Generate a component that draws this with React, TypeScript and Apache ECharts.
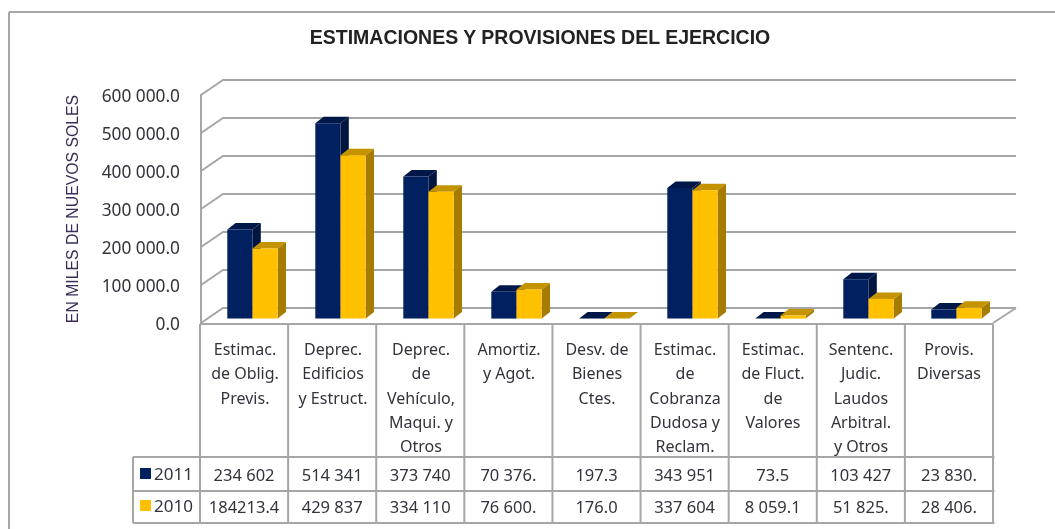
import React, { useEffect, useRef } from "react";
import * as echarts from "echarts";

const categories = [
  "Estimac.\nde Oblig.\nPrevis.",
  "Deprec.\nEdificios\ny Estruct.",
  "Deprec.\nde\nVehículo,\nMaqui. y\nOtros",
  "Amortiz.\ny Agot.",
  "Desv. de\nBienes\nCtes.",
  "Estimac.\nde\nCobranza\nDudosa y\nReclam.",
  "Estimac.\nde Fluct.\nde\nValores",
  "Sentenc.\nJudic.\nLaudos\nArbitral.\ny Otros",
  "Provis.\nDiversas",
];
const values2011 = [234602, 514341, 373740, 70376, 197.3, 343951, 73.5, 103427, 23830];
const values2010 = [184213.4, 429837, 334110, 76600, 176, 337604, 8059.1, 51825, 28406];
const labels2011 = ["234 602", "514 341", "373 740", "70 376.", "197.3", "343 951", "73.5", "103 427", "23 830."];
const labels2010 = ["184213.4", "429 837", "334 110", "76 600.", "176.0", "337 604", "8 059.1", "51 825.", "28 406."];
const yTicks = [0, 100000, 200000, 300000, 400000, 500000, 600000];
const TEXT = "#33333c";
const GRID = "#a6a6a6";
const FONT = "'Noto Sans', sans-serif";
const GL = 201, GR = 993, GT = 95, GB = 323;
const WX = 22, WY = 15;
const barW = 25.2;

function barRender(dir: number, front: string, top: string, side: string) {
  return (_: any, api: any) => {
    const i = api.value(0);
    const p = api.coord([i, api.value(1)]);
    const b = api.coord([i, 0]);
    const x0 = p[0] + 7.5 + (dir < 0 ? -barW : 0);
    const x1 = x0 + barW;
    const y0 = p[1] - 4.4;
    const y1 = b[1] - 4.4;
    const dx = 8.3, dy = 6.5;
    return {
      type: "group",
      children: [
        { type: "polygon", shape: { points: [[x1, y0], [x1 + dx, y0 - dy], [x1 + dx, y1 - dy], [x1, y1]] }, style: { fill: side } },
        { type: "polygon", shape: { points: [[x0, y0], [x0 + dx, y0 - dy], [x1 + dx, y0 - dy], [x1, y0]] }, style: { fill: top } },
        { type: "rect", shape: { x: x0, y: y0, width: barW, height: y1 - y0 }, style: { fill: front } },
      ],
    };
  };
}

function wallRender(_: any, api: any) {
  const y = api.coord([0, api.value(1)])[1];
  const isFloor = api.value(1) === 0;
  const points = [[GL, y], [GL + WX, y - WY], [GR + WX + 1, y - WY]];
  const children: any[] = [
    { type: "polyline", shape: { points }, style: { stroke: GRID, lineWidth: 2, fill: "none" } },
  ];
  if (isFloor) {
    children.push({
      type: "polyline",
      shape: { points: [[GR + WX + 1, y - WY], [GR, y]] },
      style: { stroke: GRID, lineWidth: 2, fill: "none" },
    });
  }
  return { type: "group", children };
}

function tableGraphics() {
  const tableTop = 324, rowA = 457, rowB = 491, rowC = 523;
  const left = 133, start = 200, right = 994.5;
  const cell = (right - 1.5 - start) / 9;
  const line = (x1: number, y1: number, x2: number, y2: number) => ({
    type: "line",
    shape: { x1, y1, x2, y2 },
    style: { stroke: GRID, lineWidth: 2 },
  });
  const out: any[] = [
    line(9, 12, 1055, 12),
    line(9, 12, 9, 529),
    line(start, tableTop, right - 1.5, tableTop),
    line(left, rowA, right, rowA),
    line(left, rowB, right, rowB),
    line(left, rowC, right, rowC),
    line(left, rowA, left, rowC),
  ];
  for (let i = 0; i <= 9; i++) {
    const x = start + cell * i;
    out.push(line(x, tableTop, x, rowC));
  }
  const cellText = (t: string, i: number, y: number) => ({
    type: "text",
    style: {
      text: t, x: start + cell * (i + 0.5), y,
      align: "center", verticalAlign: "middle", textAlign: "center", textVerticalAlign: "middle",
      font: `16.5px ${FONT}`, fill: TEXT,
    },
  });
  labels2011.forEach((t, i) => out.push(cellText(t, i, 474)));
  labels2010.forEach((t, i) => out.push(cellText(t, i, 506.5)));
  return out;
}

export default function App() {
  const ref = useRef<HTMLDivElement>(null);
  useEffect(() => {
    document.body.style.margin = "0";
    const chart = echarts.init(ref.current!, null, { renderer: "svg" });
    chart.setOption({
      animation: false,
      backgroundColor: "#fff",
      title: {
        text: "ESTIMACIONES Y PROVISIONES DEL EJERCICIO",
        left: 535, top: 22, textAlign: "center",
        textStyle: { fontFamily: "'Liberation Sans'", fontSize: 19.5, fontWeight: "bold", color: "#222" },
      },
      legend: {
        data: ["2011", "2010"], orient: "vertical", left: 135, top: 460,
        itemWidth: 11, itemHeight: 11, itemGap: 15, icon: "rect",
        textStyle: { fontFamily: FONT, fontSize: 17, color: TEXT, padding: [0, 0, 0, -2] },
      },
      grid: { left: GL, right: 1055 - GR, top: GT, bottom: 529 - GB },
      xAxis: {
        type: "category", data: categories,
        axisLine: { show: false }, axisTick: { show: false },
        axisLabel: { interval: 0, margin: 14, fontFamily: FONT, fontSize: 16, lineHeight: 24.3, color: TEXT, verticalAlign: "top" },
      },
      yAxis: {
        type: "value", min: 0, max: 600000, interval: 100000,
        name: "EN MILES DE NUEVOS SOLES", nameLocation: "middle", nameGap: 121, nameRotate: 90,
        nameTextStyle: { fontFamily: "'Liberation Sans'", fontSize: 15.8, color: "#3a2c55" },
        axisLine: { show: true, lineStyle: { color: GRID, width: 2 } },
        axisTick: { show: false }, splitLine: { show: false },
        axisLabel: {
          margin: 21, fontFamily: FONT, fontSize: 17.3, color: TEXT, padding: [9, 0, 0, 0],
          formatter: (v: number) => `${Math.floor(v / 1000)}${v ? " 000" : ""}.0`,
        },
      },
      series: [
        { type: "custom", name: "wall", z: 1, clip: false, silent: true, renderItem: wallRender, encode: { x: 0, y: 1 }, data: yTicks.map((v) => [0, v]) },
        { type: "custom", name: "2011", z: 2, clip: false, itemStyle: { color: "#002060" }, renderItem: barRender(-1, "#002060", "#00174a", "#00153f"), encode: { x: 0, y: 1 }, data: values2011.map((v, i) => [i, v]) },
        { type: "custom", name: "2010", z: 3, clip: false, itemStyle: { color: "#ffc000" }, renderItem: barRender(1, "#ffc000", "#c49300", "#a67c00"), encode: { x: 0, y: 1 }, data: values2010.map((v, i) => [i, v]) },
      ],
      graphic: tableGraphics(),
    });
    return () => chart.dispose();
  }, []);
  return <div ref={ref} style={{ width: 1055, height: 529, filter: "blur(0.4px)" }} />;
}
